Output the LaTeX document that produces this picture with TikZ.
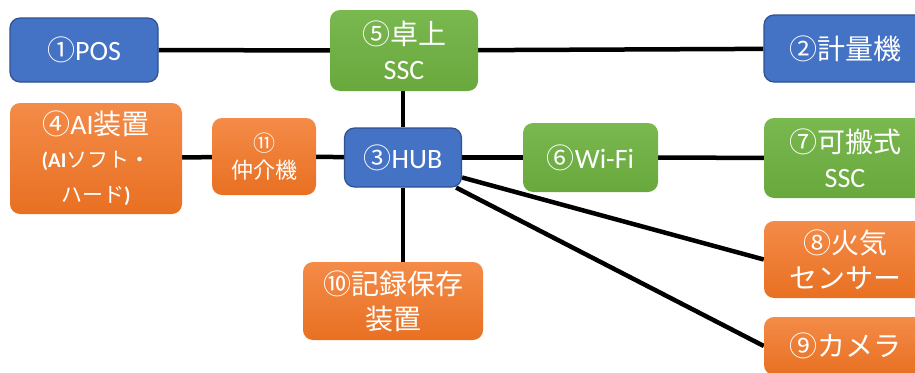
\documentclass[tikz,border=0pt]{standalone}
\usepackage{fontspec}
\setmainfont{Noto Sans CJK JP}
\newfontfamily\lat{Carlito}
\usetikzlibrary{calc}
\definecolor{bluef}{HTML}{4472C4}
\definecolor{blued}{HTML}{2F528F}
\definecolor{greent}{HTML}{7AB850}
\definecolor{greenb}{HTML}{68A83C}
\definecolor{oranget}{HTML}{F48B48}
\definecolor{orangeb}{HTML}{E87022}
\pgfdeclarelayer{bg}
\pgfsetlayers{bg,main}
\newcommand{\smallline}{\fontsize{21}{27}\selectfont}
\begin{document}
\begin{tikzpicture}[x=1pt,y=-1pt,
  box/.style={rectangle, rounded corners=10pt, inner sep=0pt, text=white, align=center, font=\fontsize{28}{35}\selectfont},
  bluebox/.style={box, fill=bluef, draw=blued, line width=1.2pt},
  greenbox/.style={box, top color=greent, bottom color=greenb},
  orangebox/.style={box, top color=oranget, bottom color=orangeb},
  link/.style={line width=4.5pt, draw=black}]
\useasboundingbox (0,0) rectangle (915,372);
\clip (0,0) rectangle (915,372);
\node[bluebox, minimum width=148pt, minimum height=64pt] (pos) at (84,50) {①{\lat POS}};
\node[greenbox, minimum width=148pt, minimum height=81pt] (ssc5) at (404,50.5) {⑤卓上\\{\lat SSC}};
\node[bluebox, minimum width=162pt, minimum height=67pt] (keiryo) at (845,48.5) {②計量機};
\node[orangebox, minimum width=172pt, minimum height=111pt] (ai) at (96,158.5) {④{\lat AI}装置\\[-2pt]\smallline{\lat\bfseries (AI}ソフト・\\\smallline ハード{\lat\bfseries )}};
\node[orangebox, minimum width=104pt, minimum height=77pt, font=\fontsize{22}{27}\selectfont] (naka) at (264,156.5) {⑪\\仲介機};
\node[bluebox, minimum width=117pt, minimum height=59pt] (hub) at (403,157.5) {③{\lat HUB}};
\node[greenbox, minimum width=135pt, minimum height=69pt] (wifi) at (590.5,157.5) {⑥{\lat Wi-Fi}};
\node[greenbox, minimum width=162pt, minimum height=80pt] (ssc7) at (845,158) {⑦可搬式\\{\lat SSC}};
\node[orangebox, minimum width=162pt, minimum height=77pt] (kaki) at (845,259.5) {⑧火気\\センサー};
\node[orangebox, minimum width=162pt, minimum height=58pt] (cam) at (845,346) {⑨カメラ};
\node[orangebox, minimum width=180pt, minimum height=78pt] (kiroku) at (393,301) {⑩記録保存\\装置};
\begin{pgfonlayer}{bg}
\draw[link] (pos) -- (ssc5);
\draw[link] (ssc5) -- (keiryo);
\draw[link] (hub.north) -- (hub.north |- ssc5.south);
\draw[link] (hub.south) -- (hub.south |- kiroku.north);
\draw[link] (ai) -- (naka);
\draw[link] (naka) -- (hub);
\draw[link] (hub) -- (wifi);
\draw[link] (wifi) -- (ssc7);
\draw[link] ([yshift=-20pt]hub.east) -- (kaki.west);
\draw[link] ([xshift=-6pt]hub.south east) -- (cam.west);
\end{pgfonlayer}
\end{tikzpicture}
\end{document}
